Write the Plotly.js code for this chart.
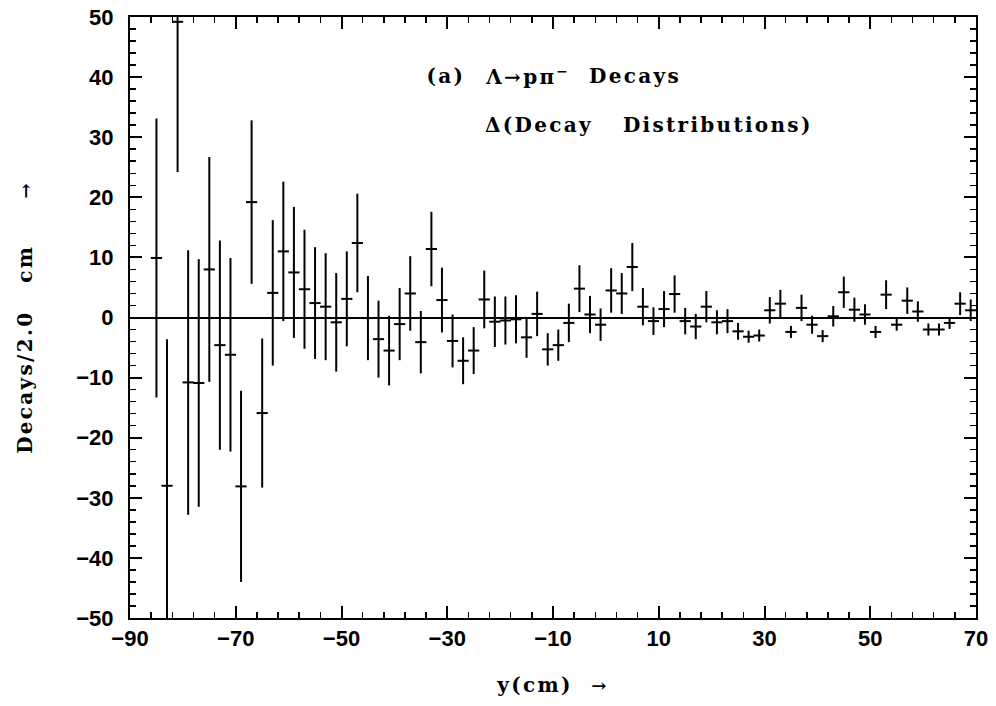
<!DOCTYPE html>
<html>
<head>
<meta charset="utf-8">
<script src="https://cdn.plot.ly/plotly-3.0.1.min.js"></script>
<style>
html,body{margin:0;padding:0;background:#fff;}
#chart{width:996px;height:706px;}
#chart .annotation-text, #chart .xtitle, #chart .ytitle { letter-spacing: 2.3px; }
</style>
</head>
<body>
<div id="chart"></div>
<script>
// Bin centres (cm)
const binCentres = [-85,-83,-81,-79,-77,-75,-73,-71,-69,-67,-65,-63,-61,-59,-57,-55,-53,-51,-49,-47,
  -45,-43,-41,-39,-37,-35,-33,-31,-29,-27,-25,-23,-21,-19,-17,-15,-13,-11,-9,-7,
  -5,-3,-1,1,3,5,7,9,11,13,15,17,19,21,23,25,27,29,31,33,
  35,37,39,41,43,45,47,49,51,53,55,57,59,61,63,65,67,69];
// Difference of decay distributions (decays / 2.0 cm)
const deltaDecays = [9.9,-28.0,49.2,-10.8,-10.9,8.0,-4.6,-6.2,-28.1,19.2,-15.9,4.1,11.0,7.5,4.7,2.4,1.8,-0.8,3.1,12.4,
  -0.1,-3.6,-5.5,-1.1,4.0,-4.1,11.4,2.9,-3.9,-7.2,-5.5,3.0,-0.7,-0.5,-0.3,-3.3,0.6,-5.3,-4.6,-0.9,
  4.8,0.5,-1.2,4.5,4.0,8.4,1.8,-0.6,1.4,3.9,-0.6,-1.5,1.8,-0.8,-0.6,-2.3,-3.2,-3.0,1.2,2.3,
  -2.4,1.6,-1.2,-3.1,0.2,4.2,1.3,0.5,-2.4,3.8,-1.2,2.8,1.0,-2.0,-2.0,-0.9,2.3,1.2];
// Statistical errors
const deltaErrors = [23.2,24.4,25.0,22.0,20.6,18.7,17.4,16.1,15.9,13.6,12.4,12.1,11.6,10.9,9.9,9.3,8.9,8.2,7.9,8.2,
  7.0,6.4,5.8,6.0,6.2,5.2,6.2,5.4,4.4,3.9,3.9,4.8,4.2,4.0,4.0,3.4,3.7,2.7,2.6,3.2,
  3.9,3.1,2.7,3.7,3.4,4.0,3.1,2.3,3.0,3.1,2.2,2.1,2.6,2.0,2.0,1.4,1.0,1.0,2.2,2.3,
  1.0,2.2,1.5,1.0,1.7,2.6,2.0,1.7,1.0,2.4,1.0,2.2,1.7,1.0,1.0,1.0,1.9,1.8];
const xTickVals = [-90,-70,-50,-30,-10,10,30,50,70];
const xTickText = ['\u221290','\u221270','\u221250','\u221230','\u221210','10','30','50','70'];
const yTickVals = [-50,-40,-30,-20,-10,0,10,20,30,40,50];
const yTickText = ['\u221250','\u221240','\u221230','\u221220','\u221210','0','10','20','30','40','50'];

const serif = 'DejaVu Serif, Liberation Serif, serif';
const sans = 'Liberation Sans, Arial, sans-serif';
const nb = '\u00a0';
const arrow = '<span style="font-size:18px">\u2192</span>';
const LS = 2.3; // letter spacing applied by CSS (not measured by Plotly)

const trace = {
  type: 'scatter', mode: 'markers',
  x: binCentres, y: deltaDecays,
  marker: {symbol: 'line-ew', size: 8, color: '#000', line: {color: '#000', width: 2}},
  error_y: {type: 'data', array: deltaErrors, visible: true, color: '#000', thickness: 2, width: 0},
  cliponaxis: true,
  hoverinfo: 'x+y'
};

const L = 130, R = 976, T = 17, B = 618;
function px(xp){ return (xp - L) / (R - L); }
function py(yp){ return 1 - (yp - T) / (B - T); }

const textFont = {family: serif, size: 20, color: '#000', weight: 'bold'};

function label(text, nChars, leftPx, midPx){
  return {text: text, xref: 'paper', yref: 'paper', x: px(leftPx + nChars * LS / 2), y: py(midPx),
          xanchor: 'left', yanchor: 'middle', showarrow: false, font: textFont};
}

const layout = {
  width: 996, height: 706,
  margin: {l: L, r: 996 - R, t: T, b: 706 - B},
  paper_bgcolor: '#fff', plot_bgcolor: '#fff',
  showlegend: false,
  xaxis: {
    range: [-90, 70], autorange: false,
    tickmode: 'array', tickvals: xTickVals, ticktext: xTickText,
    ticks: 'inside', ticklen: 12, tickwidth: 2, tickcolor: '#000',
    minor: {dtick: 4, tick0: -90, ticks: 'inside', ticklen: 6, tickwidth: 1.5, tickcolor: '#000', showgrid: false},
    showline: true, linewidth: 2, linecolor: '#000', mirror: 'allticks',
    showgrid: false, zeroline: false,
    tickfont: {family: sans, size: 22, color: '#000', weight: 'bold'},
    ticklabelstandoff: 0,
    title: {text: 'y(cm)' + nb + nb + arrow, font: textFont, standoff: 28},
    automargin: false
  },
  yaxis: {
    range: [-50, 50], autorange: false,
    tickmode: 'array', tickvals: yTickVals, ticktext: yTickText,
    ticks: 'inside', ticklen: 12, tickwidth: 2, tickcolor: '#000',
    minor: {dtick: 2, tick0: 0, ticks: 'inside', ticklen: 6, tickwidth: 1.5, tickcolor: '#000', showgrid: false},
    showline: true, linewidth: 2, linecolor: '#000', mirror: 'allticks',
    showgrid: false,
    zeroline: true, zerolinecolor: '#000', zerolinewidth: 2,
    tickfont: {family: sans, size: 22, color: '#000', weight: 'bold'},
    ticklabelstandoff: 10,
    title: {text: 'Decays/2.0' + nb + nb + nb + 'cm' + nb + nb + nb + nb + nb + arrow, font: textFont, standoff: 38},
    automargin: false
  },
  annotations: [
    label('(a)', 3, 425, 76),
    label('\u039b\u2192p\u03c0<sup>\u2212</sup>', 5, 483, 76),
    label('Decays', 6, 587, 76),
    label('\u0394(Decay', 7, 483, 125),
    label('Distributions)', 14, 621, 125)
  ]
};

Plotly.newPlot('chart', [trace], layout, {displayModeBar: false, staticPlot: true});
</script>
</body>
</html>
